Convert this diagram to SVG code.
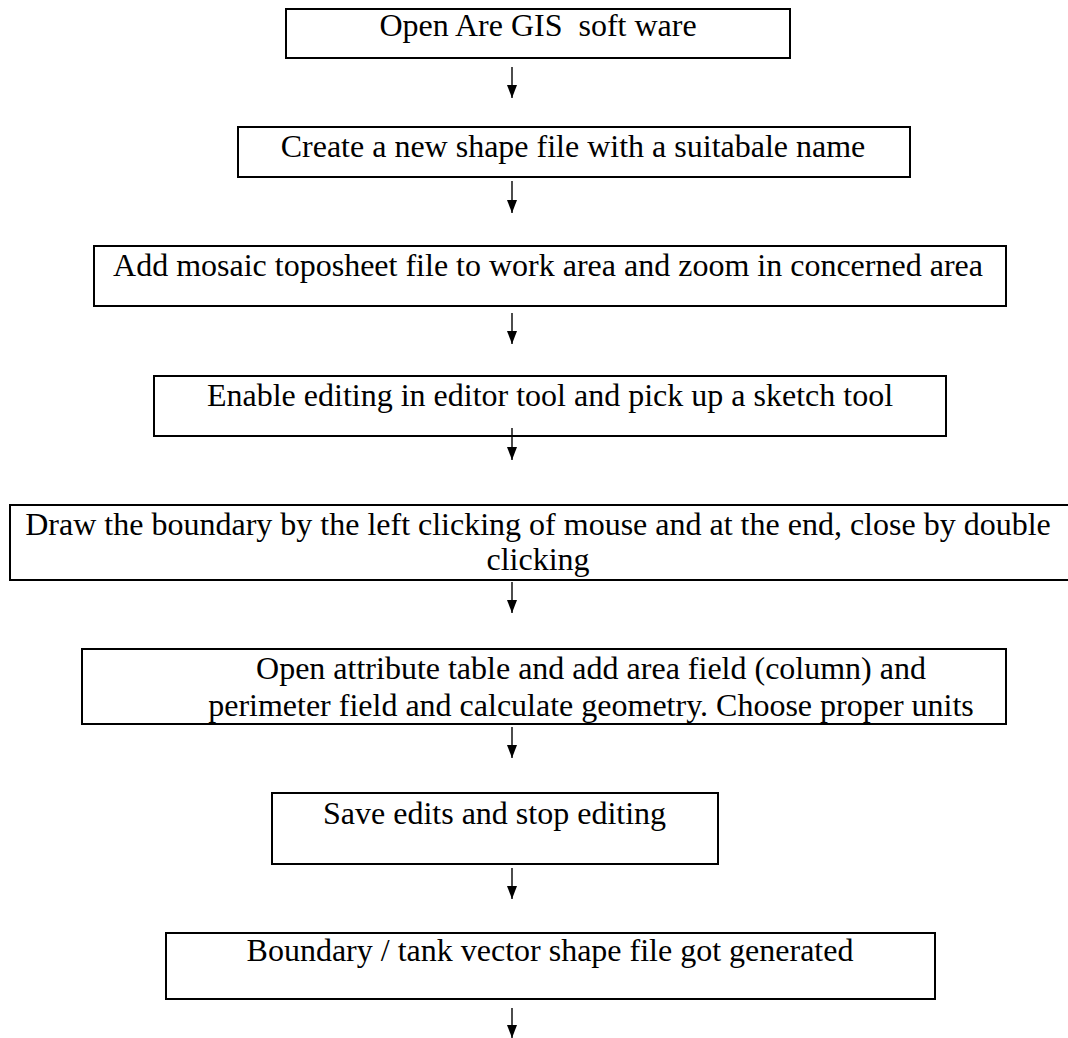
<svg xmlns="http://www.w3.org/2000/svg" width="1068" height="1038" viewBox="0 0 1068 1038">
<style>
.box{fill:#fff;stroke:#000;stroke-width:2}
.t{font-family:"Liberation Serif","Times New Roman",serif;font-size:32px;fill:#000;text-anchor:middle;white-space:pre}
.c{stroke:#000;stroke-width:1.4;fill:none;marker-end:url(#ah)}
</style>
<defs>
<marker id="ah" viewBox="0 0 13 10" refX="13" refY="5" markerWidth="13" markerHeight="10" markerUnits="userSpaceOnUse" orient="auto">
<path d="M0,0 L13,5 L0,10 Z" fill="#000"/>
</marker>
</defs>
<rect width="1068" height="1038" fill="#fff"/>
<g id="n1"><rect class="box" x="286" y="9" width="504" height="49"/><text class="t" x="538" y="36" xml:space="preserve">Open Are GIS  soft ware</text></g>
<g id="n2"><rect class="box" x="238" y="127" width="672" height="50"/><text class="t" x="573" y="157">Create a new shape file with a suitabale name</text></g>
<g id="n3"><rect class="box" x="94" y="246" width="912" height="60"/><text class="t" x="548" y="276">Add mosaic toposheet file to work area and zoom in concerned area</text></g>
<g id="n4"><rect class="box" x="154" y="376" width="792" height="60"/><text class="t" x="550" y="406">Enable editing in editor tool and pick up a sketch tool</text></g>
<g id="n5"><rect class="box" x="10" y="505" width="1070" height="75"/><text class="t" x="538" y="535">Draw the boundary by the left clicking of mouse and at the end, close by double</text><text class="t" x="538" y="570">clicking</text></g>
<g id="n6"><rect class="box" x="82" y="649" width="924" height="75"/><text class="t" x="591" y="679">Open attribute table and add area field (column) and</text><text class="t" x="591" y="716">perimeter field and calculate geometry. Choose proper units</text></g>
<g id="n7"><rect class="box" x="272" y="793" width="446" height="71"/><text class="t" x="323" y="824" style="text-anchor:start">Save edits and stop editing</text></g>
<g id="n8"><rect class="box" x="166" y="933" width="769" height="66"/><text class="t" x="550" y="961">Boundary / tank vector shape file got generated</text></g>
<g id="connectors">
<path class="c" d="M512,67 V98"/>
<path class="c" d="M512,181 V213"/>
<path class="c" d="M512,313 V344"/>
<path class="c" d="M512,428 V460"/>
<path class="c" d="M512,582 V613"/>
<path class="c" d="M512,727 V758"/>
<path class="c" d="M512,868 V899"/>
<path class="c" d="M512,1008 V1038"/>
</g>
</svg>
